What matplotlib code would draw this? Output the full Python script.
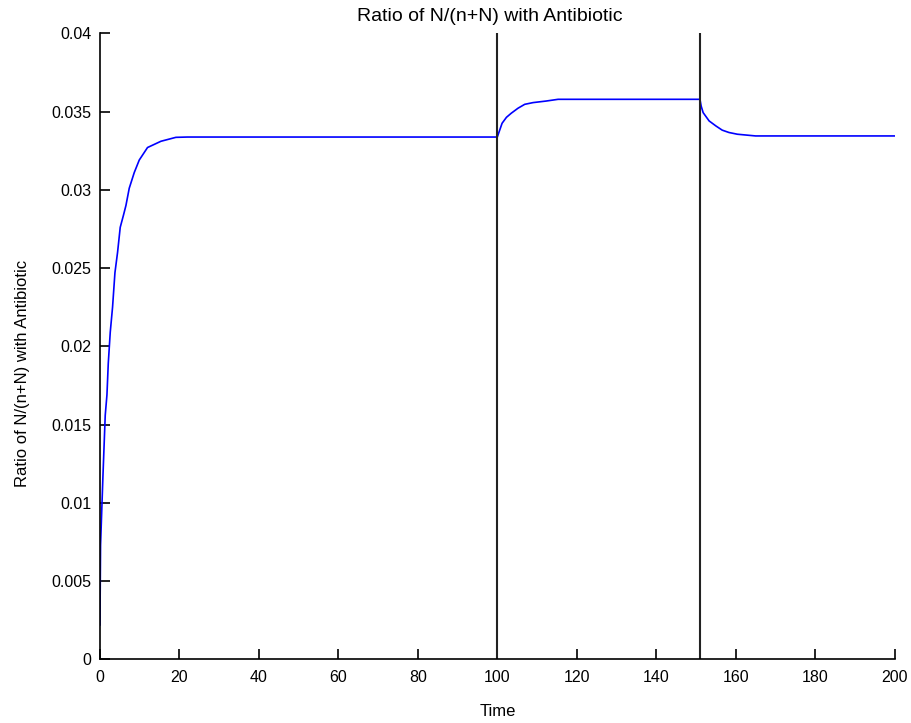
import matplotlib
matplotlib.use("Agg")
import matplotlib.pyplot as plt
import numpy as np

# Ratio of N/(n+N) over time; antibiotic switched at t=100 and t=151
time_pts = [0, 0.15, 0.75, 1.33, 1.76, 2.09, 2.59, 3.17, 3.77, 4.43, 5.1, 5.94,
            6.54, 7.37, 8.63, 9.89, 11.97, 15.35, 19.1, 22, 100,
            101.2, 102.3, 103.5, 105.2, 106.9, 109.0, 112.3, 115.3, 151,
            151.3, 151.8, 153.3, 155.0, 156.6, 158.3, 160.4, 165, 200]
ratio_pts = [0.0022, 0.0073, 0.0117, 0.0156, 0.0169, 0.0189, 0.0209, 0.0225,
             0.0247, 0.0260, 0.0276, 0.0284, 0.0290, 0.0301, 0.0311, 0.0319,
             0.0327, 0.0331, 0.03335, 0.03337, 0.03337,
             0.03425, 0.03463, 0.03489, 0.03521, 0.03546, 0.03557, 0.03567,
             0.03578, 0.03578,
             0.03535, 0.03493, 0.03440, 0.03408, 0.03381, 0.03366, 0.03355,
             0.03344, 0.03344]
switch_times = [100, 151]

x_ticks = list(range(0, 201, 20))
y_ticks = [0, 0.005, 0.01, 0.015, 0.02, 0.025, 0.03, 0.035, 0.04]
y_tick_labels = ["0", "0.005", "0.01", "0.015", "0.02", "0.025", "0.03", "0.035", "0.04"]

plt.rcParams["font.family"] = ["Liberation Sans", "DejaVu Sans"]

fig = plt.figure(figsize=(9.12, 7.23), dpi=100)
ax = fig.add_axes([0.1096, 0.088, 0.8714, 0.866])

ax.plot(time_pts, ratio_pts, color="#0000ff", linewidth=1.2)
for st in switch_times:
    ax.plot([st, st], [0, 0.04], color="#222222", linewidth=1.5)

ax.set_xlim(0, 200)
ax.set_ylim(0, 0.04)
ax.set_xticks(x_ticks)
ax.set_xticklabels([str(v) for v in x_ticks])
ax.set_yticks(y_ticks)
ax.set_yticklabels(y_tick_labels)

for side in ("top", "right"):
    ax.spines[side].set_visible(False)
for side in ("left", "bottom"):
    ax.spines[side].set_linewidth(1.2)

ax.tick_params(direction="in", length=7, width=1.2, labelsize=11.5,
               top=False, right=False)
ax.tick_params(axis="x", pad=8)
ax.tick_params(axis="y", pad=6)

ax.set_title("Ratio of N/(n+N) with Antibiotic", fontsize=14, pad=9, x=0.49)
ax.set_xlabel("Time", fontsize=12, labelpad=13)
ax.set_ylabel("Ratio of N/(n+N) with Antibiotic", fontsize=12)
ax.yaxis.set_label_coords(-0.088, 0.456)

fig.savefig("out.png", dpi=100)
